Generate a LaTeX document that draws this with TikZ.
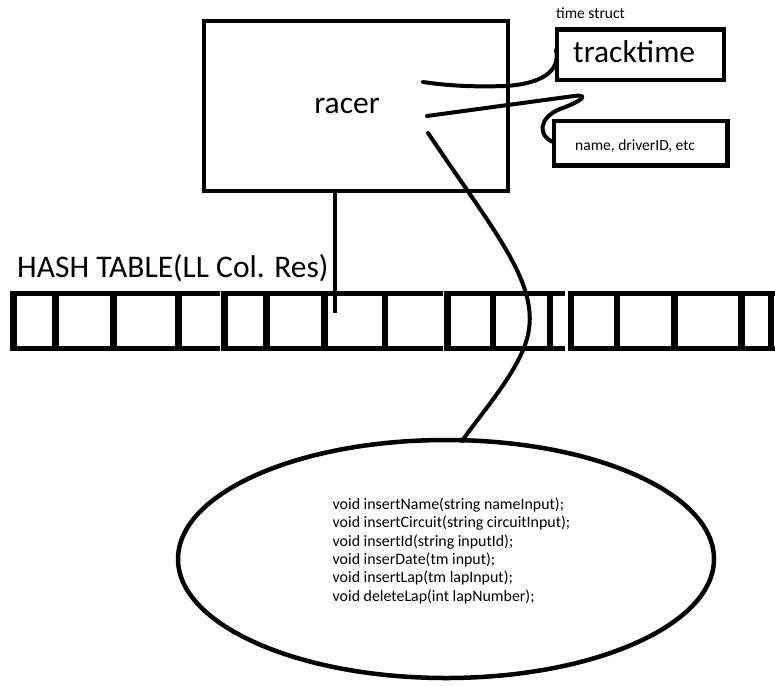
\documentclass[tikz,border=0pt]{standalone}
\usepackage{fontspec}
\usetikzlibrary{shapes.geometric}
\setmainfont{Carlito}
\begin{document}
\begin{tikzpicture}[x=1pt,y=-1pt,
  box/.style={draw=black,line width=4.5pt,inner sep=0pt},
  big/.style={font=\fontsize{31.5}{36}\selectfont,inner sep=0pt},
  small/.style={font=\fontsize{15.5}{18}\selectfont,inner sep=0pt},
  method/.style={font=\fontsize{15.9}{18}\selectfont,inner sep=0pt,anchor=base west},
  hline/.style={line width=5pt},
  vline/.style={line width=6.5pt},
  wire/.style={line width=4pt,line cap=round,line join=round}]
\useasboundingbox[fill=white] (0,0) rectangle (775,685);

% racer box
\node[box,minimum width=304pt,minimum height=170pt] (racer) at (356,106) {};
\node[big,anchor=base] (racerlbl) at (347,113) {racer};

% tracktime box
\node[small,anchor=base west] (timestruct) at (556,19) {time struct};
\node[box,minimum width=167pt,minimum height=50.5pt] (track) at (640.5,54.75) {};
\node[big,anchor=base west] (tracklbl) at (573,63) {tracktime};

% name box
\node[box,minimum width=173.5pt,minimum height=44.5pt] (namebox) at (640.75,143.25) {};
\node[small,anchor=base west] (namelbl) at (575,150.7) {name, driverID, etc};

% hash table
\node[big,anchor=base west] (hashlbl) at (17,277) {HASH TABLE(LL Col. Res)};
\draw[hline] (11,293.5) -- (220,293.5) (11,348.5) -- (220,348.5);
\draw[hline] (222,293.5) -- (443,293.5) (222,348.5) -- (443,348.5);
\draw[hline] (446,293.5) -- (565,293.5) (446,348.5) -- (565,348.5);
\draw[hline] (568,293.5) -- (775,293.5) (568,348.5) -- (775,348.5);
\foreach \xv in {13.5,55.5,113.5,178.5,224.5,266.5,324.5,385,447.5,493,550,571,617,674.5,741.5,771}
  \draw[vline] (\xv,291) -- (\xv,351);

% ellipse of methods
\node[draw=black,line width=4.5pt,ellipse,minimum width=536pt,minimum height=238pt,inner sep=0pt] (methods) at (446,559) {};
\foreach \t [count=\i] in {{void insertName(string nameInput);},{void insertCircuit(string circuitInput);},{void insertId(string inputId);},{void inserDate(tm input);},{void insertLap(tm lapInput);},{void deleteLap(int lapNumber);}}
  \node[method] (m\i) at (332.5,{509.5+18.3*(\i-1)}) {\t};

% connectors
\coordinate (r1) at (423,82);
\coordinate (t1) at (556,50);
\coordinate (r2) at (427,116);
\coordinate (n1) at (553,142);
\coordinate (r3) at (428,133);
\coordinate (e1) at (462,441);
\coordinate (rb) at (335,191);
\coordinate (hb) at (335,313);

\draw[wire] (r1) .. controls (450,86) and (475,87) .. (505,86)
  .. controls (540,84) and (561,72) .. (t1);
\draw[wire] (r2) -- (574,96) .. controls (590,94) and (582,101) .. (560,109)
  .. controls (538,118) and (538,136) .. (n1);
\draw[wire] (r3) .. controls (500,240) and (545,290) .. (525,345)
  .. controls (513,378) and (480,415) .. (e1);
\draw[line width=4pt] (rb) -- (hb);
\end{tikzpicture}
\end{document}
